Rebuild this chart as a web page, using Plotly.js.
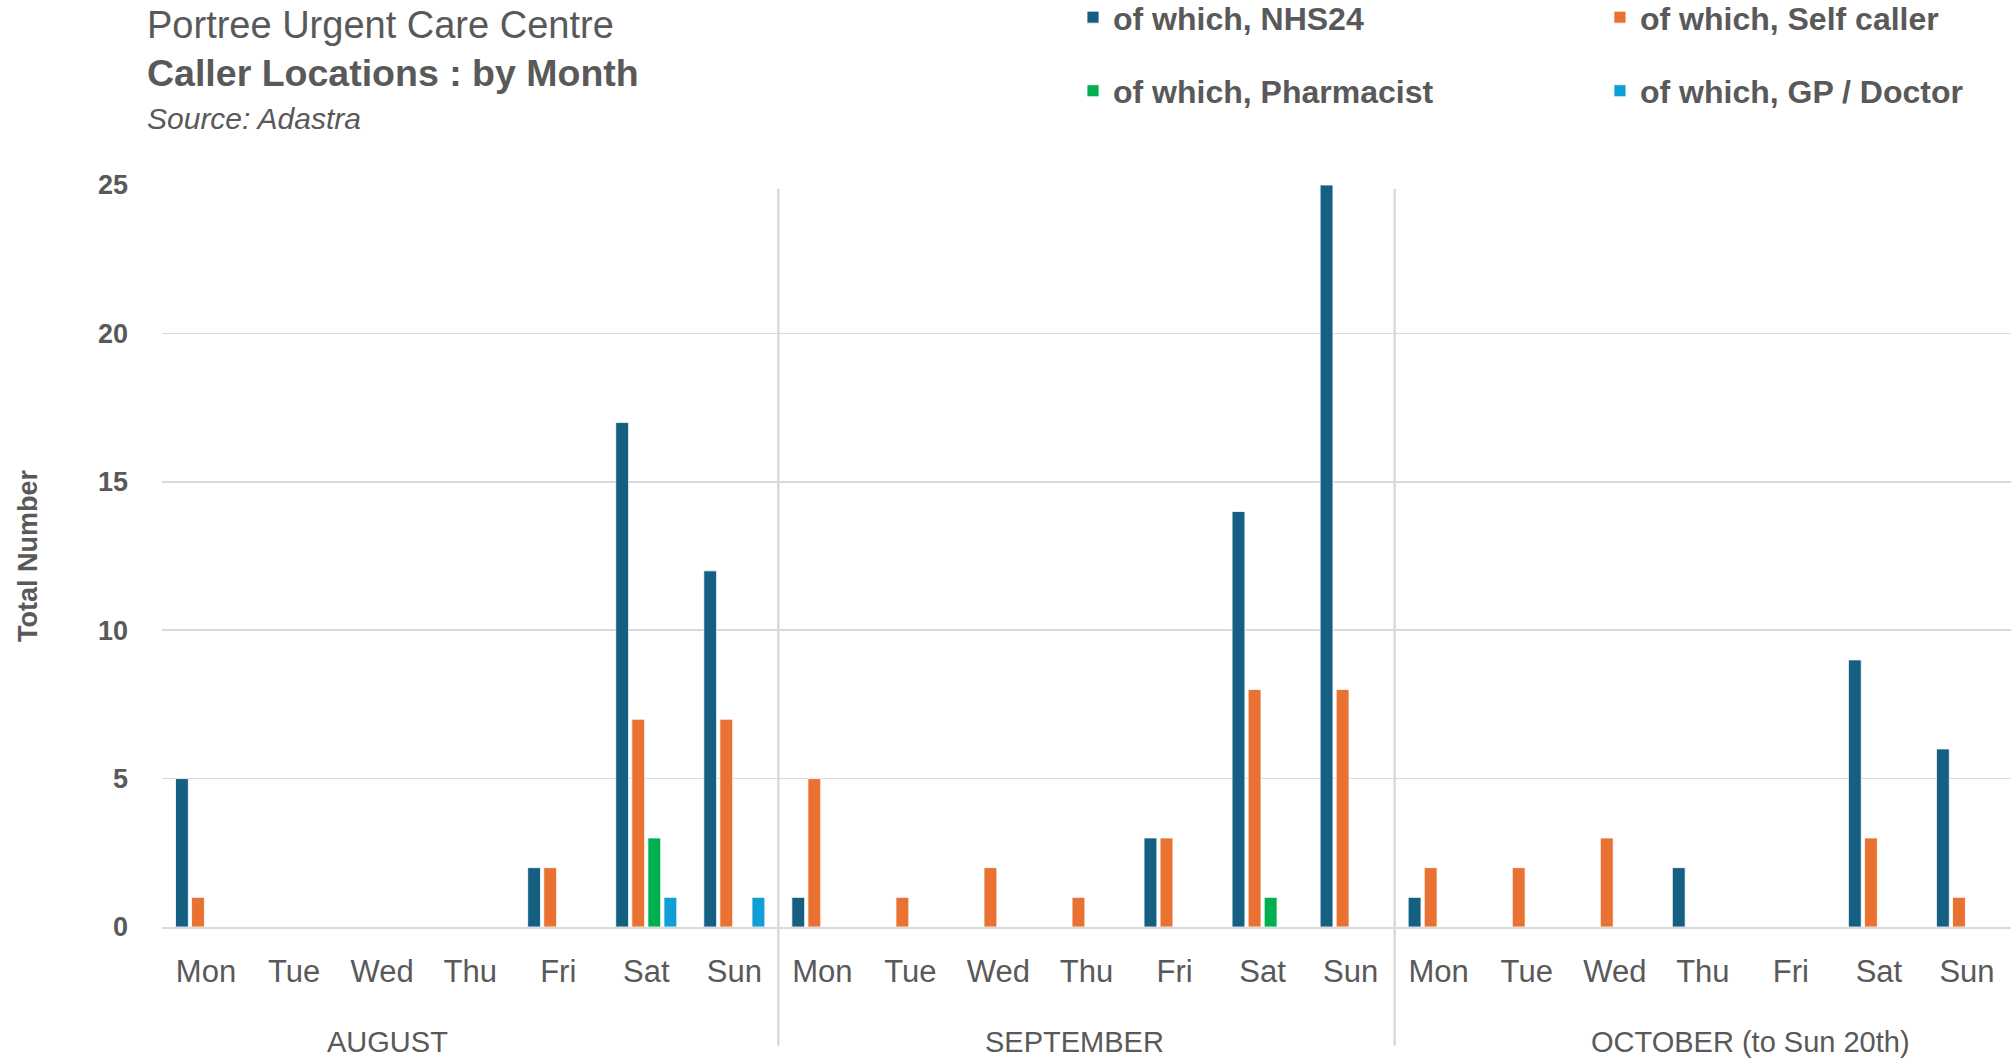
<!DOCTYPE html>
<html>
<head>
<meta charset="utf-8">
<script src="https://cdn.plot.ly/plotly-3.0.1.min.js"></script>
<style>html,body{margin:0;padding:0;background:#fff;}#chart{width:2013px;height:1060px;}</style>
</head>
<body>
<div id="chart"></div>
<script>
// ---- Data ----
const months = ["AUGUST", "SEPTEMBER", "OCTOBER (to Sun 20th)"];
const days = ["Mon", "Tue", "Wed", "Thu", "Fri", "Sat", "Sun"];
const seriesNames = ["of which, NHS24", "of which, Self caller", "of which, Pharmacist", "of which, GP / Doctor"];
// values: Aug Mon..Sun, Sep Mon..Sun, Oct Mon..Sun
const nhs24      = [5,0,0,0,2,17,12,  1,0,0,0,3,14,25,  1,0,0,2,0,9,6];
const selfCaller = [1,0,0,0,2,7,7,    5,1,2,1,3,8,8,    2,2,3,0,0,3,1];
const pharmacist = [0,0,0,0,0,3,0,    0,0,0,0,0,1,0,    0,0,0,0,0,0,0];
const gpDoctor   = [0,0,0,0,0,1,1,    0,0,0,0,0,0,0,    0,0,0,0,0,0,0];
const titleLines = ["Portree Urgent Care Centre", "Caller Locations : by Month", "Source: Adastra"];

// ---- Build categories ----
const cats = [], tickText = [];
months.forEach(m => days.forEach(d => { cats.push(m + "|" + d); tickText.push(d); }));
const total = cats.length;

const colors = ["#156082", "#E97132", "#00B050", "#0F9ED5"];
const values = [nhs24, selfCaller, pharmacist, gpDoctor];
const legendIds = ["legend", "legend2", "legend", "legend2"];

const traces = values.map((v, i) => ({
  type: "bar",
  name: seriesNames[i],
  x: cats,
  y: v,
  marker: {color: colors[i], line: {color: "rgba(255,255,255,0.8)", width: 1}},
  legend: legendIds[i],
  legendgroup: "g" + i,
  hoverinfo: "y+name"
}));

const txtColor = "#595959";
const font = "Liberation Sans, Arial, sans-serif";

// separators between months and month labels
const shapes = [], annotations = [];
const monthShift = [-83, -12, 48];
months.forEach((m, k) => {
  const start = k * days.length, end = start + days.length;
  if (k > 0) {
    shapes.push({type: "line", xref: "paper", yref: "paper",
      x0: start / total, x1: start / total, y0: -0.16, y1: 0.995,
      line: {color: "#d9d9d9", width: 2.5}});
  }
  annotations.push({text: m, xref: "x", yref: "paper",
    x: (start + end - 1) / 2, y: -0.155, xshift: monthShift[k],
    showarrow: false, yanchor: "middle", xanchor: "center",
    font: {family: font, size: 29, color: txtColor}});
});

annotations.push({text: titleLines[0], xref: "paper", yref: "paper",
  x: -0.009, y: 1.2162, xanchor: "left", yanchor: "middle", showarrow: false,
  font: {family: font, size: 38, color: txtColor}});
annotations.push({text: "<b>" + titleLines[1] + "</b>", xref: "paper", yref: "paper",
  x: -0.009, y: 1.151, xanchor: "left", yanchor: "middle", showarrow: false,
  font: {family: font, size: 37.5, color: txtColor}});
annotations.push({text: "<i>" + titleLines[2] + "</i>", xref: "paper", yref: "paper",
  x: -0.009, y: 1.090, xanchor: "left", yanchor: "middle", showarrow: false,
  font: {family: font, size: 30, color: txtColor}});

const legendCommon = {
  orientation: "v", xanchor: "left", yanchor: "top", y: 1.263,
  bgcolor: "rgba(0,0,0,0)", traceorder: "grouped", tracegroupgap: 29,
  font: {family: font, size: 32, color: txtColor, weight: "bold"}
};

const layout = {
  width: 2013, height: 1060,
  paper_bgcolor: "#fff", plot_bgcolor: "#fff",
  margin: {l: 162, r: 2, t: 185, b: 133, autoexpand: false},
  font: {family: font, color: txtColor},
  barmode: "group", bargap: 0.27, bargroupgap: 0.2,
  showlegend: true,
  legend: Object.assign({}, legendCommon, {x: 0.4927}),
  legend2: Object.assign({}, legendCommon, {x: 0.7777}),
  xaxis: {type: "category", tickmode: "array", tickvals: cats, ticktext: tickText,
    showgrid: false, showline: true, linecolor: "#d9d9d9", linewidth: 2,
    ticks: "", ticklabelstandoff: 16,
    tickfont: {family: font, size: 31, color: txtColor}},
  yaxis: {range: [0, 25], dtick: 5, showgrid: true, gridcolor: "#d9d9d9", gridwidth: 1.5,
    zeroline: false, ticks: "", ticklabelstandoff: 33,
    tickfont: {family: font, size: 27, color: txtColor, weight: "bold"},
    title: {text: "Total Number", standoff: 52,
      font: {family: font, size: 27, color: txtColor, weight: "bold"}}},
  shapes: shapes,
  annotations: annotations
};

Plotly.newPlot("chart", traces, layout, {displayModeBar: false, staticPlot: true});
</script>
</body>
</html>
